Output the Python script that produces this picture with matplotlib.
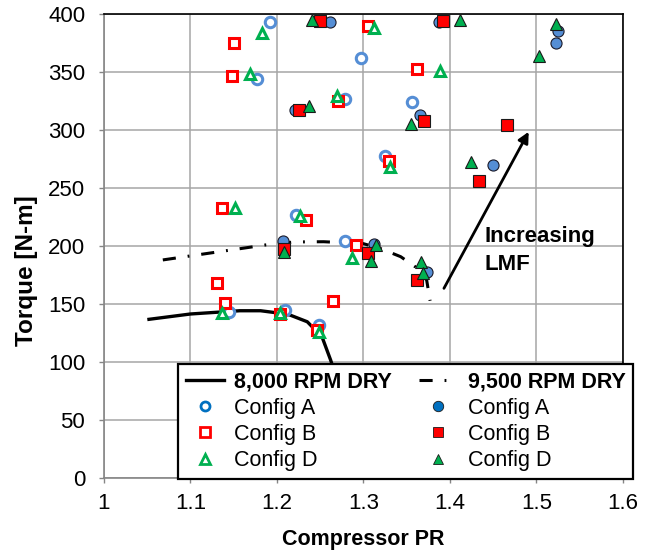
import matplotlib
matplotlib.use("Agg")
import matplotlib.pyplot as plt
from matplotlib.lines import Line2D
from matplotlib.legend_handler import HandlerLine2D

plt.rcParams['font.family'] = ['Liberation Sans', 'DejaVu Sans']

# ---------------- data ----------------
# open markers
a_open_x = [1.192, 1.177, 1.297, 1.279, 1.356, 1.325, 1.222, 1.279, 1.145, 1.209, 1.248]
a_open_y = [393, 344, 362, 327, 324, 278, 227, 204, 143, 145, 132]
b_open_x = [1.150, 1.148, 1.305, 1.362, 1.271, 1.329, 1.137, 1.233, 1.291, 1.131, 1.140, 1.204, 1.265, 1.246]
b_open_y = [375, 347, 390, 353, 325, 273, 233, 222, 201, 168, 151, 141, 153, 128]
d_open_x = [1.183, 1.169, 1.312, 1.389, 1.269, 1.331, 1.152, 1.227, 1.287, 1.137, 1.204, 1.248]
d_open_y = [384, 348, 388, 351, 329, 268, 233, 226, 190, 142, 142, 126]
# filled markers
a_fill_x = [1.261, 1.387, 1.525, 1.523, 1.221, 1.365, 1.450, 1.207, 1.312, 1.373]
a_fill_y = [393, 393, 385, 375, 317, 313, 270, 204, 202, 178]
b_fill_x = [1.250, 1.392, 1.226, 1.370, 1.466, 1.433, 1.208, 1.305, 1.362]
b_fill_y = [394, 394, 317, 308, 304, 256, 197, 194, 171]
d_fill_x = [1.241, 1.411, 1.523, 1.503, 1.237, 1.355, 1.424, 1.208, 1.314, 1.309, 1.367, 1.369]
d_fill_y = [395, 395, 391, 364, 321, 305, 272, 195, 201, 187, 186, 177]
# dry curves
rpm8000_x = [1.052, 1.100, 1.157, 1.181, 1.204, 1.215, 1.235, 1.252, 1.262, 1.268]
rpm8000_y = [136.8, 141.4, 144.2, 144.2, 142.0, 140.5, 134.7, 121.8, 101.7, 88.0]
rpm9500_x = [1.068, 1.1875, 1.220, 1.254, 1.300, 1.319, 1.343, 1.360, 1.373, 1.377]
rpm9500_y = [188.0, 201.0, 203.5, 203.7, 202.0, 198.0, 190.8, 182.0, 170.7, 152.8]
# arrow
arrow_start = (1.393, 163.5)
arrow_end = (1.491, 298.5)

xticks = [1.0, 1.1, 1.2, 1.3, 1.4, 1.5, 1.6]
xticklabels = ['1', '1.1', '1.2', '1.3', '1.4', '1.5', '1.6']
yticks = [0, 50, 100, 150, 200, 250, 300, 350, 400]

BLUE = '#558ED5'
LBLUE = '#0070C0'
RED = '#FF0000'
GREEN = '#00B050'

fig = plt.figure(figsize=(6.52, 5.5), dpi=100)
fig.subplots_adjust(left=0.1595, right=0.9555, bottom=0.1309, top=0.9745)
ax = fig.add_subplot(111)

ax.set_xlim(1.0, 1.6)
ax.set_ylim(0, 400)
ax.set_xticks(xticks)
ax.set_xticklabels(xticklabels)
ax.set_yticks(yticks)
ax.set_axisbelow(True)
ax.grid(True, color='#A6A6A6', lw=1.1)
for s in ['left', 'bottom']:
    ax.spines[s].set_color('#868686')
    ax.spines[s].set_linewidth(1.2)
for s in ['top', 'right']:
    ax.spines[s].set_color('#000000')
    ax.spines[s].set_linewidth(1.2)
ax.tick_params(axis='both', direction='out', length=3.5, width=1.0, color='#868686', labelsize=16)
ax.tick_params(axis='y', pad=10)
ax.tick_params(axis='x', pad=7)

ax.set_xlabel('Compressor PR', fontsize=15.5, fontweight='bold', labelpad=11)
ax.set_ylabel('Torque [N-m]', fontsize=17.5, fontweight='bold')
ax.yaxis.set_label_coords(-0.128, 0.448)

ax.plot(rpm8000_x, rpm8000_y, color='black', lw=2.4, zorder=2)
ax.plot(rpm9500_x, rpm9500_y, color='black', lw=2.2, linestyle=(0, (4.3, 3.9, 0.6, 3.9)), zorder=2)

ms = 8
ax.plot(a_open_x, a_open_y, ls='none', marker='o', ms=7.5, mfc='white', mec=BLUE, mew=2.2, clip_on=False, zorder=3)
ax.plot(b_open_x, b_open_y, ls='none', marker='s', ms=7.5, mfc='white', mec=RED, mew=2.2, clip_on=False, zorder=3)
ax.plot(d_open_x, d_open_y, ls='none', marker='^', ms=7.5, mfc='white', mec=GREEN, mew=2.2, clip_on=False, zorder=3)
ax.plot(a_fill_x, a_fill_y, ls='none', marker='o', ms=ms, mfc=BLUE, mec='#1a1a2a', mew=0.8, clip_on=False, zorder=4)
ax.plot(b_fill_x, b_fill_y, ls='none', marker='s', ms=ms, mfc=RED, mec='#1a1a1a', mew=0.8, clip_on=False, zorder=4)
ax.plot(d_fill_x, d_fill_y, ls='none', marker='^', ms=ms, mfc=GREEN, mec='#1a1a1a', mew=0.8, clip_on=False, zorder=4)

ax.annotate('', xy=arrow_end, xytext=arrow_start,
            arrowprops=dict(arrowstyle='-|>', lw=2, color='black', mutation_scale=16, shrinkA=0, shrinkB=0))
ax.text(1.440, 217, 'Increasing\nLMF', fontsize=16, fontweight='bold', ha='left', va='top', linespacing=1.4)


class RightMarker(HandlerLine2D):
    def get_xdata(self, legend, xdescent, ydescent, width, height, fontsize):
        xdata = [-xdescent, -xdescent + width]
        xm = [-xdescent + width - 3]
        return xdata, xm


h8000 = Line2D([], [], color='black', lw=2.4)
h9500 = Line2D([], [], color='black', lw=2.2, linestyle=(0, (4.3, 3.9, 0.6, 3.9)))
hAo = Line2D([], [], ls='none', marker='o', ms=6.5, mfc='white', mec=LBLUE, mew=2)
hBo = Line2D([], [], ls='none', marker='s', ms=6.5, mfc='white', mec=RED, mew=2)
hDo = Line2D([], [], ls='none', marker='^', ms=6.5, mfc='white', mec=GREEN, mew=2)
hAf = Line2D([], [], ls='none', marker='o', ms=7.5, mfc=LBLUE, mec='#1a1a1a', mew=0.6)
hBf = Line2D([], [], ls='none', marker='s', ms=7.5, mfc=RED, mec='#1a1a1a', mew=0.6)
hDf = Line2D([], [], ls='none', marker='^', ms=7.5, mfc=GREEN, mec='#1a1a1a', mew=0.6)

handles = [h8000, hAo, hBo, hDo, h9500, hAf, hBf, hDf]
labels = ['8,000 RPM DRY', 'Config A', 'Config B', 'Config D',
          '9,500 RPM DRY', 'Config A', 'Config B', 'Config D']
hm = {h: RightMarker() for h in [hAo, hBo, hDo, hAf, hBf, hDf]}
leg = ax.legend(handles, labels, ncol=2, loc='lower left',
                bbox_to_anchor=(0.143, -0.002, 0.877, 0.251), mode='expand',
                borderaxespad=0, fontsize=15.5, frameon=True, fancybox=False,
                framealpha=1, edgecolor='black', handlelength=1.75, handletextpad=0.5,
                labelspacing=0.24, columnspacing=0.6, borderpad=0.36, handler_map=hm)
leg.get_frame().set_linewidth(1.6)
leg.set_zorder(10)
for i, t in enumerate(leg.get_texts()):
    if i in (0, 4):
        t.set_fontweight('bold')

fig.savefig('out.png', dpi=100)
